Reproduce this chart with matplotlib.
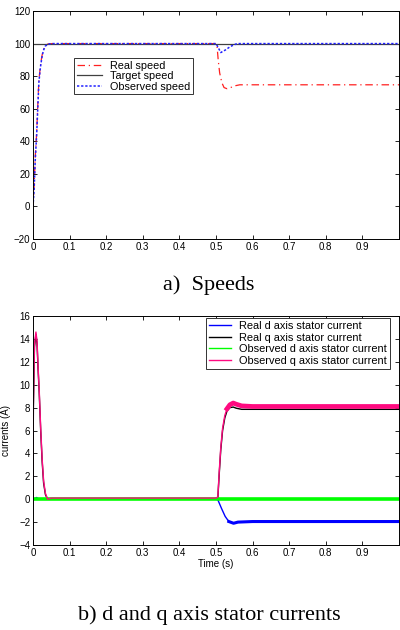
import numpy as np
import matplotlib
matplotlib.use('Agg')
import matplotlib.pyplot as plt

# speeds
t_real = [0, 0.003, 0.006, 0.01, 0.013, 0.016, 0.02, 0.024, 0.028, 0.033, 0.04, 0.05,
          0.5, 0.503, 0.506, 0.51, 0.516, 0.522, 0.53, 0.54, 0.55, 0.565, 1.0]
v_real = [0, 12, 30, 45, 62, 77, 86, 92, 96, 98.5, 99.7, 100,
          100, 98, 90, 82, 76, 73, 72.3, 73, 74, 74.7, 74.7]
t_obs = [0, 0.003, 0.006, 0.01, 0.013, 0.016, 0.02, 0.024, 0.028, 0.033, 0.04, 0.05,
         0.5, 0.505, 0.513, 0.525, 0.54, 0.557, 1.0]
v_obs = [0, 10, 28, 44, 60, 76, 85, 91, 95.5, 98.3, 99.6, 100,
         100, 98, 94.5, 96, 98.3, 100, 100]
t_target = [0, 1.0]
v_target = [100, 100]

# stator currents
t_iq = [0, 0.001, 0.004, 0.008, 0.011, 0.014, 0.017, 0.021, 0.025, 0.029, 0.034, 0.04, 0.05,
        0.5, 0.505, 0.509, 0.513, 0.518, 0.524, 0.53, 0.538, 0.547, 0.555, 0.57, 0.6, 1.0]
iq_obs = [0, 8.2, 13.5, 14.6, 13.8, 11.5, 9.5, 6.2, 3.5, 1.6, 0.5, 0.0, 0.1,
          0.1, 0.2, 2.5, 4.5, 6.2, 7.3, 7.9, 8.25, 8.4, 8.3, 8.15, 8.1, 8.1]
iq_real = [0, 8.0, 13.3, 14.4, 13.6, 11.3, 9.3, 6.0, 3.3, 1.4, 0.4, 0.0, 0.0,
           0.0, 0.1, 2.3, 4.3, 6.0, 7.1, 7.7, 8.0, 8.05, 7.95, 7.85, 7.85, 7.85]
t_id = [0, 0.005, 0.01, 0.015, 0.5, 0.505, 0.515, 0.525, 0.535, 0.548, 0.56, 0.6, 1.0]
id_real = [0, 0.05, 0.15, 0.0, 0.0, -0.05, -0.8, -1.5, -1.95, -2.1, -2.0, -1.95, -1.95]
id_obs_t = [0, 1.0]
id_obs = [0, 0]

xticks = np.arange(0, 1.0, 0.1)
xlabels = ['0'] + ['%.1f' % x for x in xticks[1:]]

plt.rcParams['font.family'] = ['Liberation Sans', 'DejaVu Sans']
plt.rcParams['font.size'] = 7

fig = plt.figure(figsize=(4, 6.3), dpi=100)


def style_axes(ax):
    ax.tick_params(direction='in', length=3, top=True, right=True, width=0.6, pad=2)
    for s in ax.spines.values():
        s.set_linewidth(0.7)
    ax.set_xticks(xticks)
    ax.set_xticklabels(xlabels)
    ax.set_xlim(0, 1.0)


# a) speeds
ax1 = fig.add_axes([0.0825, 0.6206, 0.915, 0.3619])
ax1.plot(t_real, v_real, color='#ff2020', linestyle='-.', lw=0.9, dashes=(6, 3, 1, 3), label='Real speed')
ax1.plot(t_target, v_target, color='0.25', lw=0.9, label='Target speed')
ax1.plot(t_obs, v_obs, color='#2020ff', linestyle=':', lw=1.1, dashes=(1.5, 1.2), label='Observed speed')
ax1.set_ylim(-20, 120)
ax1.set_yticks(np.arange(-20, 121, 20))
style_axes(ax1)
leg1 = ax1.legend(loc='upper left', bbox_to_anchor=(0.112, 0.794), borderaxespad=0,
                  fancybox=False, edgecolor='0.2', framealpha=1, handlelength=2.3,
                  labelspacing=0.05, borderpad=0.25, handletextpad=0.8, fontsize=7.8)
leg1.get_frame().set_linewidth(0.7)
fig.text(0.5225, 0.548, 'a)  Speeds', family='Liberation Serif', fontsize=16,
         ha='center', va='center')

# b) currents
ax2 = fig.add_axes([0.0825, 0.1349, 0.915, 0.3635])
ax2.plot(t_id, id_real, color='#0000ff', lw=1.0, label='Real d axis stator current')
ax2.plot(t_iq, iq_real, color='black', lw=1.0, label='Real q axis stator current')
ax2.plot(id_obs_t, id_obs, color='#00ff00', lw=2.6, label='Observed d axis stator current')
ax2.plot(t_iq, iq_obs, color='#ff0a80', lw=1.0, label='Observed q axis stator current')
# thicker band for the noisy steady-state parts
t_iq_arr = np.array(t_iq)
m = t_iq_arr >= 0.53
ax2.plot(t_iq_arr[m], np.array(iq_obs)[m], color='#ff0a80', lw=3.4)
t_id_arr = np.array(t_id)
md = t_id_arr >= 0.535
ax2.plot(t_id_arr[md], np.array(id_real)[md], color='#0000ff', lw=2.2)
ax2.set_ylim(-4, 16)
ax2.set_yticks(np.arange(-4, 17, 2))
style_axes(ax2)
ax2.set_xlabel('Time (s)', labelpad=1)
ax2.set_ylabel('currents (A)', labelpad=6)
leg2 = ax2.legend(loc='upper right', bbox_to_anchor=(0.975, 0.99), borderaxespad=0,
                  fancybox=False, edgecolor='0.2', framealpha=1, handlelength=2.0,
                  labelspacing=0.15, borderpad=0.25, handletextpad=0.8, fontsize=7.9)
leg2.get_frame().set_linewidth(0.7)
for line in leg2.get_lines():
    line.set_linewidth(1.0)
fig.text(0.5225, 0.024, 'b) d and q axis stator currents', family='Liberation Serif',
         fontsize=16, ha='center', va='center')

fig.savefig('out.png', dpi=100)
